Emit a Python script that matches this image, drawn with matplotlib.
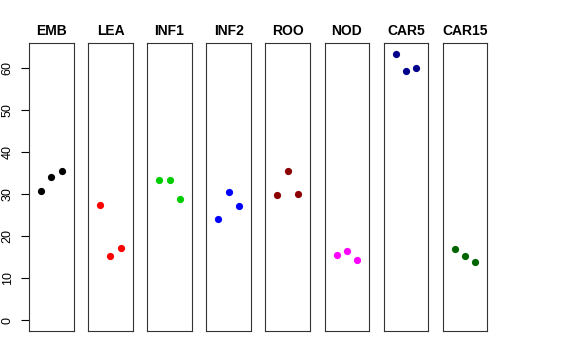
import numpy as np
import matplotlib
matplotlib.use("Agg")
import matplotlib.pyplot as plt

plt.rcParams['font.family'] = ['Liberation Sans', 'DejaVu Sans']

# tissues and their three replicate values
tissues = ['EMB', 'LEA', 'INF1', 'INF2', 'ROO', 'NOD', 'CAR5', 'CAR15']
colors = ['black', 'red', '#00CD00', 'blue', '#8B0000', 'magenta', '#00008B', '#006400']
values = {
    'EMB': [30.9, 34.2, 35.6],
    'LEA': [27.5, 15.3, 17.3],
    'INF1': [33.5, 33.4, 28.9],
    'INF2': [24.1, 30.5, 27.3],
    'ROO': [29.8, 35.6, 30.2],
    'NOD': [15.5, 16.4, 14.4],
    'CAR5': [63.5, 59.3, 60.0],
    'CAR15': [17.1, 15.4, 13.9],
}
yticks = [0, 10, 20, 30, 40, 50, 60]

W, H = 576, 360
fig = plt.figure(figsize=(W / 100, H / 100), dpi=100)

ymax = max(max(v) for v in values.values())
ylim = (-0.04 * ymax, ymax * 1.04)

for i, (t, c) in enumerate(zip(tissues, colors)):
    left = 29 + i * 59.1
    ax = fig.add_axes([left / W, 29 / H, 44.7 / W, 288 / H])
    ax.plot([1, 2, 3], values[t], 'o', color=c, markersize=5.2, markeredgewidth=0)
    ax.set_xlim(-0.16, 4.16)
    ax.set_ylim(*ylim)
    ax.set_xticks([])
    ax.set_title(t, fontsize=10, fontweight='bold', pad=6)
    for s in ax.spines.values():
        s.set_linewidth(0.8)
        s.set_color('#333333')
    if i == 0:
        ax.set_yticks(yticks)
        ax.set_yticklabels([str(v) for v in yticks], rotation=90, va='center', fontsize=9)
        ax.tick_params(axis='y', length=6, width=0.8, pad=5)
    else:
        ax.set_yticks([])

fig.savefig('out.png', dpi=100)
